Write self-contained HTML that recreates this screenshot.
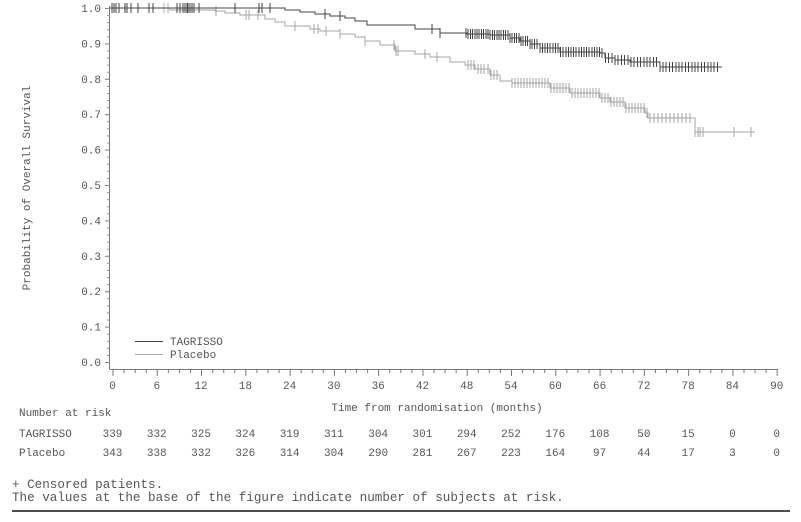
<!DOCTYPE html>
<html><head><meta charset="utf-8"><style>
body{margin:0;background:#fff;width:801px;height:517px;overflow:hidden}
svg text{font-family:"Liberation Mono",monospace;fill:#555;font-size:11px}
</style></head><body>
<svg id="s" width="801" height="517" xmlns="http://www.w3.org/2000/svg">
<g stroke="#777" stroke-width="1" fill="none">
<line x1="109.5" y1="6" x2="109.5" y2="369"/>
<line x1="109.5" y1="369.5" x2="778" y2="369.5"/>
</g>
<g id="ax"></g>
<text x="30" y="188" transform="rotate(-90 30 188)" text-anchor="middle">Probability of Overall Survival</text>
<text x="437" y="411" text-anchor="middle">Time from randomisation (months)</text>
<text x="19" y="416">Number at risk</text>
<text x="19" y="437">TAGRISSO</text>
<text x="19" y="456">Placebo</text>
<text x="12" y="488" style="font-size:12.6px">+ Censored patients.</text>
<text x="12" y="501" style="font-size:12.6px">The values at the base of the figure indicate number of subjects at risk.</text>
<line x1="12" y1="511" x2="790" y2="511" stroke="#111" stroke-width="1.5"/>
<line x1="135" y1="341.5" x2="163" y2="341.5" stroke="#444"/>
<line x1="135" y1="354.5" x2="163" y2="354.5" stroke="#aaa"/>
<text x="170" y="345">TAGRISSO</text>
<text x="170" y="358">Placebo</text>
<g id="cv"></g>
</svg>
<script>
var ns="http://www.w3.org/2000/svg",ax=document.getElementById('ax'),cv=document.getElementById('cv');
function el(p,t,a,txt){var e=document.createElementNS(ns,t);for(var k in a)e.setAttribute(k,a[k]);if(txt!=null)e.textContent=txt;p.appendChild(e);return e;}
function X(t){return 112.5+7.38*t}
function Y(s){return 8+(1-s)*354}
for(var i=0;i<=10;i++){var y=Y(i/10);el(ax,'line',{x1:105,x2:109.5,y1:y+.5,y2:y+.5,stroke:'#777'});el(ax,'text',{x:101,y:y+4,'text-anchor':'end'},(i/10).toFixed(1));}
for(var i=0;i<=50;i++){var y=Y(i/50)+.5;el(ax,'line',{x1:107,x2:109.5,y1:y,y2:y,stroke:'#999'});}
var tg=[339,332,325,324,319,311,304,301,294,252,176,108,50,15,0,0],pl=[343,338,332,326,314,304,290,281,267,223,164,97,44,17,3,0];
for(var t=0;t<=90;t+=1.5){var x=X(t)+.5;var big=t%6==0;el(ax,'line',{x1:x,x2:x,y1:369.5,y2:big?376:373,stroke:'#777'});}
for(var i=0;i<=15;i++){var x=X(i*6);el(ax,'text',{x:x,y:389,'text-anchor':'middle'},i*6);
el(ax,'text',{x:x,y:437,'text-anchor':'middle'},tg[i]);el(ax,'text',{x:x,y:456,'text-anchor':'middle'},pl[i]);}
function curve(pts,col,cens){var d='M'+pts[0][0]+' '+pts[0][1];
for(var i=1;i<pts.length;i++){d+=' H'+pts[i][0]+' V'+pts[i][1];}
el(cv,'path',{d:d,fill:'none',stroke:col,'stroke-width':1});
function yat(x){var y=pts[0][1];for(var i=0;i<pts.length;i++){if(pts[i][0]<=x)y=pts[i][1];}return y;}
cens.forEach(function(x){var y=yat(x);el(cv,'line',{x1:x,x2:x,y1:y-5,y2:y+5,stroke:col,'stroke-width':1});});}
var T=[[110,8],[277,8],[285,10],[300,12],[315,14],[330,16],[345,18],[355,21],[367,25],[400,25],[415,29],[440,33],[467,34],[490,35],[510,38],[520,41],[530,44],[540,48],[560,52],[600,53],[605,58],[615,60],[630,62],[660,67],[722,67]];
var P=[[110,8],[160,8],[170,10],[215,11],[225,13],[240,15],[265,19],[275,22],[285,26],[310,29],[320,31],[340,34],[355,37],[365,41],[380,45],[395,51],[415,54],[430,57],[450,62],[465,65],[475,69],[490,75],[500,81],[512,83],[550,88],[570,93],[600,98],[610,102],[625,108],[645,113],[648,118],[693,118],[695,132],[755,132]];
var tc=[112,114,116,119,125,127,131,138,149,153,177,180,183,185,187,188,190,192,194,199,235,259,262,270,325,340,432,440];
for(var x=466;x<720;x+=(x<530?2.2:x<600?2.6:3.2))tc.push(Math.round(x*2)/2);
var pc=[164,168,216,246,249,258,295,314,318,326,340,365,394,396,398,425,437,468,471,474,478,481,484,488,491,494,497];
for(var x=512;x<693;x+=(x<650?3:4))pc.push(Math.round(x*2)/2);
pc.push(695,698,700,703,734,751);
curve(P,'#a6a6a6',pc);curve(T,'#444',tc);
</script>
</body></html>
